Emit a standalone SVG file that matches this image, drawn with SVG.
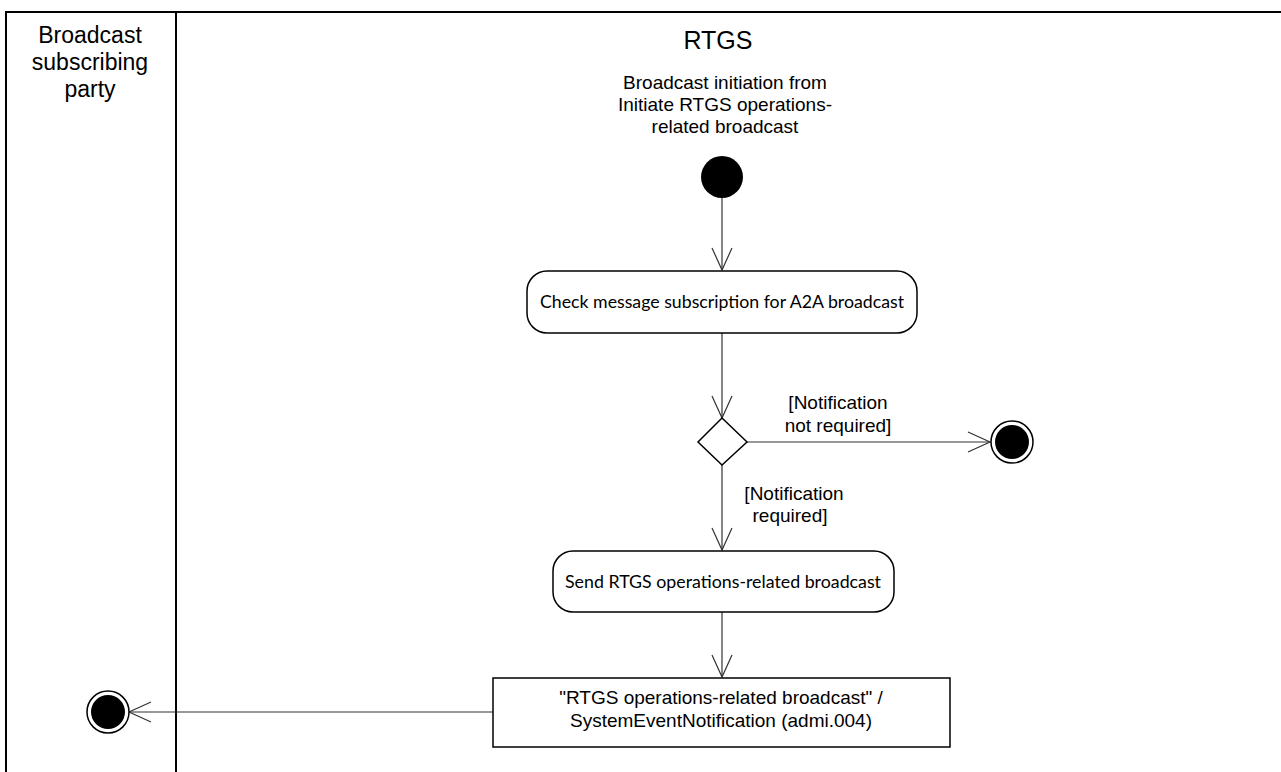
<svg xmlns="http://www.w3.org/2000/svg" width="1281" height="772" viewBox="0 0 1281 772">
<style>
.t{font-family:"Liberation Sans",Arial,sans-serif;fill:#000;text-anchor:middle;font-size:19px}
.c{font-family:Lato,"Open Sans",sans-serif;fill:#000;text-anchor:middle;font-size:18px}
.frame{stroke:#000;stroke-width:2;fill:none}
.act{fill:#fff;stroke:#000;stroke-width:1.5}
.con{stroke:#333;stroke-width:1.2;fill:none}
</style>
<defs>
<marker id="open" markerUnits="userSpaceOnUse" markerWidth="30" markerHeight="30" viewBox="-25 -15 30 30" refX="0" refY="0" orient="auto">
<path d="M-22,-10 L0,0 L-22,10" fill="none" stroke="#333" stroke-width="1.2"/>
</marker>
</defs>
<rect width="1281" height="772" fill="#fff"/>
<g id="frame">
<line class="frame" x1="6" y1="12" x2="1281" y2="12"/>
<line class="frame" x1="6" y1="11" x2="6" y2="772"/>
<line class="frame" x1="176" y1="12" x2="176" y2="772"/>
<text class="t" style="font-size:23px" x="90" y="43">Broadcast</text>
<text class="t" style="font-size:23px" x="90" y="70">subscribing</text>
<text class="t" style="font-size:23px" x="90" y="97">party</text>
<text class="t" style="font-size:25px" x="718" y="49">RTGS</text>
</g>
<g id="connectors">
<line class="con" x1="722" y1="198" x2="722" y2="270" marker-end="url(#open)"/>
<line class="con" x1="722" y1="333" x2="722" y2="418" marker-end="url(#open)"/>
<line class="con" x1="747" y1="442" x2="990" y2="442" marker-end="url(#open)"/>
<line class="con" x1="722" y1="465" x2="722" y2="550" marker-end="url(#open)"/>
<line class="con" x1="722" y1="612" x2="722" y2="677" marker-end="url(#open)"/>
<line class="con" x1="493" y1="712" x2="129" y2="712" marker-end="url(#open)"/>
<text class="t" x="838" y="409">[Notification</text>
<text class="t" x="838" y="432">not required]</text>
<text class="t" x="794" y="500">[Notification</text>
<text class="t" x="790" y="522">required]</text>
</g>
<g id="start">
<text class="t" x="725" y="89">Broadcast initiation from</text>
<text class="t" x="725" y="111">Initiate RTGS operations-</text>
<text class="t" x="725" y="133">related broadcast</text>
<circle cx="722" cy="177" r="21" fill="#000"/>
</g>
<g id="check">
<rect class="act" x="527" y="271" width="390" height="62" rx="20" ry="20"/>
<text class="c" x="722" y="308" textLength="364" lengthAdjust="spacingAndGlyphs">Check message subscription for A2A broadcast</text>
</g>
<g id="decision">
<polygon class="act" points="722,418 747,442 722,465 698,442"/>
</g>
<g id="end-right">
<circle cx="1012" cy="442" r="21" fill="#fff" stroke="#000" stroke-width="1.5"/>
<circle cx="1012" cy="442" r="17" fill="#000"/>
</g>
<g id="send">
<rect class="act" x="553" y="551" width="341" height="61" rx="20" ry="20"/>
<text class="c" x="723" y="588" textLength="316" lengthAdjust="spacingAndGlyphs">Send RTGS operations-related broadcast</text>
</g>
<g id="message">
<rect class="act" x="493" y="678" width="457" height="69"/>
<text class="t" x="721" y="704">"RTGS operations-related broadcast" /</text>
<text class="t" x="721" y="727">SystemEventNotification (admi.004)</text>
</g>
<g id="end-left">
<circle cx="108" cy="712" r="21" fill="#fff" stroke="#000" stroke-width="1.5"/>
<circle cx="108" cy="712" r="17" fill="#000"/>
</g>
</svg>
